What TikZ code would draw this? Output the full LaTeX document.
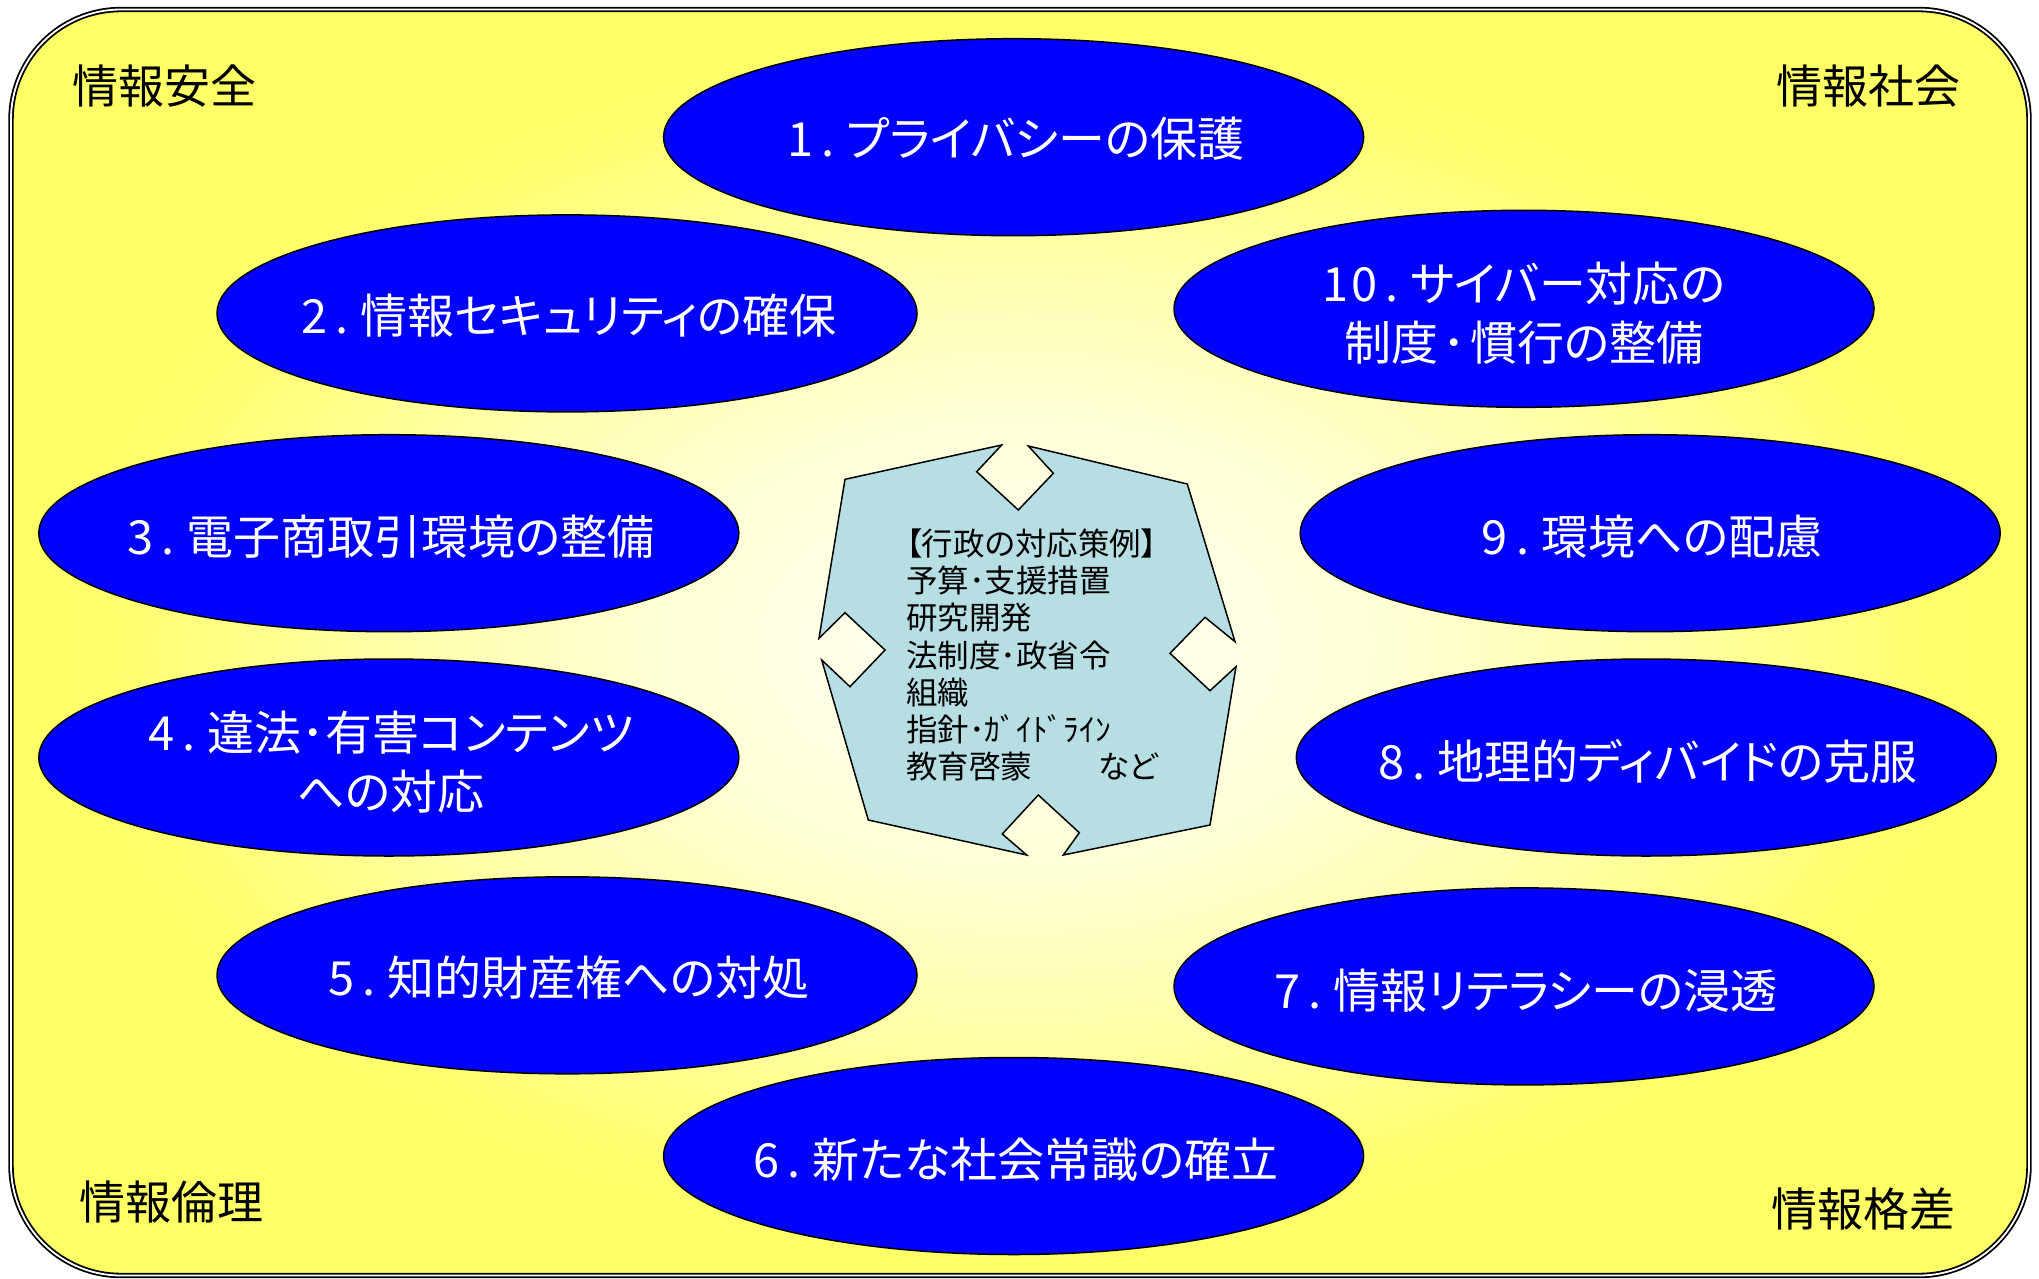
\documentclass[tikz,border=0pt]{standalone}
\usepackage{fontspec}
\newfontfamily\jp{Noto Sans CJK JP}
\newfontfamily\jpp[RawFeature=+palt]{Noto Sans CJK JP}
\usetikzlibrary{shapes.geometric}
\definecolor{ovalblue}{RGB}{0,0,255}
\definecolor{octfill}{RGB}{183,222,227}
\pgfdeclareradialshading{bgglow}{\pgfpoint{0bp}{0bp}}{rgb(0bp)=(1,1,0.94); rgb(4bp)=(1,1,0.92); rgb(9bp)=(1,1,0.84); rgb(16bp)=(1,1,0.65); rgb(22.5bp)=(1,1,0.43); rgb(25bp)=(1,1,0.4); rgb(50bp)=(1,1,0.4)}
\newcommand\numdot[1]{#1\hspace{8pt}.\hspace{12pt}}
\tikzset{
  oval/.style={ellipse, draw=black, line width=1.5pt, fill=ovalblue, minimum width=700pt, minimum height=197pt, inner sep=0pt},
  ovaltext/.style={text=white, font=\jpp\fontsize{47}{58.5}\selectfont, align=center, inner sep=0pt},
  cornertext/.style={text=black, font=\jp\fontsize{46}{50}\selectfont, inner sep=0pt},
  midtext/.style={text=black, font=\jpp\fontsize{31.5}{37.3}\selectfont, align=left, inner sep=0pt},
  octstyle/.style={draw=black, line width=1.5pt, fill=octfill, line join=miter},
  frame/.style={line width=1.8pt, draw=black, double=white, double distance=1.8pt, rounded corners=110pt}
}
\begin{document}
\begin{tikzpicture}[x=1pt,y=-1pt]
\useasboundingbox (0,0) rectangle (2039,1279);
\fill[white] (0,0) rectangle (2039,1279);
\shade[shading=bgglow, rounded corners=110pt] (11,9.5) rectangle (2029,1275.5);
\draw[frame] (11,9.5) rectangle (2029,1275.5);

% corner labels
\node[cornertext] (safe) at (164.5,86) {情報安全};
\node[cornertext] (society) at (1868,86) {情報社会};
\node[cornertext] (ethics) at (171.5,1202) {情報倫理};
\node[cornertext] (gap) at (1863.5,1209) {情報格差};

% ellipses
\node[oval] (e1) at (1013.6,137.2) {};
\node[oval] (e2) at (567,313.4) {};
\node[oval] (e10) at (1524,308.8) {};
\node[oval] (e3) at (388.8,533.2) {};
\node[oval] (e9) at (1650.2,533.2) {};
\node[oval] (e4) at (388.8,757.5) {};
\node[oval] (e8) at (1646.3,757.5) {};
\node[oval] (e5) at (567,975.3) {};
\node[oval] (e7) at (1524,986.4) {};
\node[oval] (e6) at (1013.6,1156) {};

\node[ovaltext] (t1) at (1016,139) {\numdot{1}プライバシーの保護};
\node[ovaltext] (t2) at (569,316) {\numdot{2}情報セキュリティの確保};
\node[ovaltext] (t10) at (1524,313) {\numdot{1\hspace{2pt}0}サイバー対応の\\制度\hspace{4pt}･\hspace{4pt}慣行の整備};
\node[ovaltext] (t3) at (391,537) {\numdot{3}電子商取引環境の整備};
\node[ovaltext] (t9) at (1652,537) {\numdot{9}環境への配慮};
\node[ovaltext] (t4) at (391,762) {\numdot{4}違法･有害コンテンツ\\への対応};
\node[ovaltext] (t8) at (1648,761) {\numdot{8}地理的ディバイドの克服};
\node[ovaltext] (t5) at (569,978) {\numdot{5}知的財産権への対処};
\node[ovaltext] (t7) at (1526,991) {\numdot{7}情報リテラシーの浸透};
\node[ovaltext] (t6) at (1016,1160) {\numdot{6}新たな社会常識の確立};

% centre shape
\draw[octstyle] (845,479.3) -- (1001.7,445) -- (976.7,471.7) -- (1018.3,510) -- (1053.3,473.3) -- (1028.3,446) -- (1187.3,484) -- (1235,641.7) -- (1205,617.3) -- (1170,653.3) -- (1210,690.7) -- (1236,666.7) -- (1210,825) -- (1063.3,855) -- (1079.3,832.7) -- (1038.3,795) -- (1002.3,834) -- (1026.7,855) -- (868.3,820) -- (821.7,660) -- (850,686.7) -- (885,650) -- (845,612.7) -- (819,638.3) -- cycle;
\node[midtext, anchor=west] (measures) at (906,655) {【行政の対応策例】\\予算･支援措置\\研究開発\\法制度･政省令\\組織\\指針･ｶﾞｲﾄﾞﾗｲﾝ\\教育啓蒙\hspace{66pt}など};
\end{tikzpicture}
\end{document}
